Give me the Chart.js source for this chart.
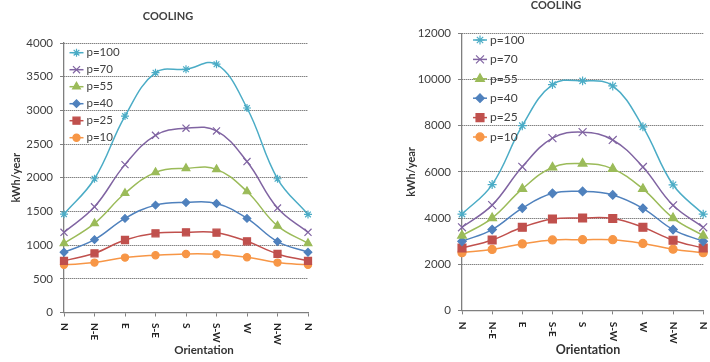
<!DOCTYPE html>
<html lang="en">

<head>
    <meta charset="UTF-8">
    <title>Cooling</title>
    <script src="https://cdn.jsdelivr.net/npm/chart.js"></script>
</head>

<style>
    * {
        box-sizing: border-box;
        margin: 0;
        padding: 0;
    }

    body {
        background-color: #fff;
        width: 710px;
        height: 362px;
        overflow: hidden;
        position: relative;
    }

    .chart-box {
        position: absolute;
        top: 0;
        width: 355px;
        height: 362px;
    }
</style>

<body>

    <div class="chart-box" style="left: 0;">
        <canvas id="chartLeft" width="355" height="362"></canvas>
    </div>
    <div class="chart-box" style="left: 355px;">
        <canvas id="chartRight" width="355" height="362"></canvas>
    </div>

    <script>
        // data
        const orientations = ['N', 'N-E', 'E', 'S-E', 'S', 'S-W', 'W', 'N-W', 'N'];
        const seriesNames = ['p=100', 'p=70', 'p=55', 'p=40', 'p=25', 'p=10'];

        const leftP100 = [1460, 1985, 2915, 3560, 3610, 3685, 3035, 1985, 1455];
        const leftP70 = [1190, 1569, 2195, 2630, 2735, 2695, 2240, 1550, 1190];
        const leftP55 = [1027, 1323, 1770, 2080, 2140, 2125, 1796, 1285, 1027];
        const leftP40 = [894, 1081, 1397, 1594, 1633, 1618, 1397, 1052, 894];
        const leftP25 = [766, 879, 1076, 1175, 1190, 1185, 1057, 869, 766];
        const leftP10 = [707, 741, 815, 850, 869, 864, 820, 741, 707];

        const rightP100 = [4170, 5450, 8000, 9780, 9940, 9720, 7950, 5440, 4170];
        const rightP70 = [3600, 4560, 6220, 7460, 7720, 7380, 6210, 4550, 3600];
        const rightP55 = [3240, 4000, 5260, 6190, 6360, 6130, 5260, 4000, 3240];
        const rightP40 = [2990, 3500, 4430, 5070, 5150, 5000, 4420, 3500, 2990];
        const rightP25 = [2700, 3050, 3600, 3960, 4000, 3980, 3600, 3040, 2700];
        const rightP10 = [2500, 2640, 2880, 3050, 3060, 3060, 2900, 2650, 2500];

        const leftTicks = { max: 4000, step: 500 };
        const rightTicks = { max: 12000, step: 2000 };

        const seriesColors = ['#4BACC6', '#8064A2', '#9BBB59', '#4F81BD', '#C0504D', '#F79646'];
        const seriesMarkers = ['star', 'crossRot', 'triangle', 'rectRot', 'rect', 'circle'];
        const markerSizes = [4, 5, 4.5, 3.8, 5, 3.6];

        Chart.defaults.font.family = 'Lato, "Open Sans", sans-serif';
        Chart.defaults.color = '#404040';

        function makeDatasets(allValues, scale) {
            return allValues.map((values, i) => ({
                label: seriesNames[i],
                data: values,
                borderColor: seriesColors[i],
                backgroundColor: seriesColors[i],
                borderWidth: 1.5,
                pointStyle: seriesMarkers[i],
                pointRadius: markerSizes[i] * scale,
                pointBorderWidth: 1.2,
                pointBackgroundColor: seriesColors[i],
                pointBorderColor: seriesColors[i],
                tension: 0.4
            }));
        }

        // title, clockwise x labels, axis title and the inside legend
        const drawExtras = {
            id: 'drawExtras',
            afterDraw(chart, args, opts) {
                const ctx = chart.ctx;
                const xScale = chart.scales.x;
                ctx.save();

                ctx.fillStyle = '#404040';
                ctx.font = 'bold 11px Lato';
                ctx.textAlign = 'center';
                ctx.textBaseline = 'middle';
                ctx.fillText('COOLING', opts.titleX, opts.titleY);

                ctx.fillStyle = '#262626';
                ctx.font = 'bold 10px Lato';
                ctx.textAlign = 'left';
                orientations.forEach((label, i) => {
                    ctx.save();
                    ctx.translate(xScale.getPixelForTick(i), xScale.top + opts.labelGap);
                    ctx.rotate(Math.PI / 2);
                    ctx.fillText(label, 0, 0);
                    ctx.restore();
                });

                ctx.fillStyle = '#333';
                ctx.font = 'bold ' + opts.axisFont + 'px Lato';
                ctx.textAlign = 'center';
                ctx.fillText('Orientation', opts.axisTitleX, opts.axisTitleY);

                ctx.font = opts.legendFont + 'px Lato';
                ctx.textAlign = 'left';
                chart.data.datasets.forEach((ds, i) => {
                    const y = opts.legendY + i * opts.legendStep;
                    ctx.strokeStyle = ds.borderColor;
                    ctx.fillStyle = ds.borderColor;
                    ctx.lineWidth = 1.5;
                    ctx.beginPath();
                    ctx.moveTo(opts.legendX - 7, y);
                    ctx.lineTo(opts.legendX + 7, y);
                    ctx.stroke();
                    ctx.lineWidth = 1.2;
                    Chart.helpers.drawPoint(ctx, {
                        pointStyle: ds.pointStyle,
                        radius: ds.pointRadius,
                        borderWidth: 1.2,
                        rotation: 0
                    }, opts.legendX, y);
                    ctx.fillStyle = '#404040';
                    ctx.fillText(ds.label, opts.legendX + 10, y);
                });

                ctx.restore();
            }
        };

        function makeConfig(allValues, ticks, box) {
            return {
                type: 'line',
                data: {
                    labels: orientations,
                    datasets: makeDatasets(allValues, box.markerScale)
                },
                plugins: [drawExtras],
                options: {
                    responsive: false,
                    animation: false,
                    layout: {
                        padding: { left: box.padLeft, right: box.padRight, top: box.padTop, bottom: 0 }
                    },
                    plugins: {
                        legend: { display: false },
                        tooltip: { enabled: false },
                        drawExtras: box.extras
                    },
                    scales: {
                        x: {
                            offset: false,
                            ticks: { display: false },
                            grid: {
                                drawOnChartArea: false,
                                tickLength: 4,
                                color: '#808080'
                            },
                            border: { color: '#7f7f7f', width: 1.3 },
                            afterFit: (scale) => { scale.height = box.xHeight; }
                        },
                        y: {
                            min: 0,
                            max: ticks.max,
                            ticks: {
                                stepSize: ticks.step,
                                padding: 7,
                                font: { size: 11.5 },
                                color: '#404040',
                                callback: (value) => String(value)
                            },
                            grid: {
                                color: '#4d4d4d',
                                tickLength: 4,
                                tickColor: '#808080',
                                tickBorderDash: []
                            },
                            border: { color: '#7f7f7f', width: 1.3, dash: [1, 1] },
                            title: {
                                display: true,
                                text: 'kWh/year',
                                color: '#333',
                                font: { size: 11, weight: 'bold' },
                                padding: { top: box.yTitlePad, bottom: 0 }
                            },
                            afterFit: (scale) => { scale.width = box.yWidth; }
                        }
                    }
                }
            };
        }

        const leftBox = {
            padLeft: 0, padRight: 47, padTop: 43,
            xHeight: 49.5, yWidth: 64, yTitlePad: 10, markerScale: 1,
            extras: {
                titleX: 168, titleY: 16.5, labelGap: 10.5,
                axisTitleX: 204, axisTitleY: 350, axisFont: 11.5,
                legendX: 76.5, legendY: 52.7, legendStep: 17, legendFont: 11.5
            }
        };

        const rightBox = {
            padLeft: 44, padRight: 3, padTop: 33.3,
            xHeight: 51.6, yWidth: 63, yTitlePad: 6, markerScale: 1.12,
            extras: {
                titleX: 201, titleY: 5.5, labelGap: 11.3,
                axisTitleX: 233, axisTitleY: 350, axisFont: 12.5,
                legendX: 125, legendY: 40, legendStep: 19.4, legendFont: 12
            }
        };

        new Chart(document.getElementById('chartLeft'),
            makeConfig([leftP100, leftP70, leftP55, leftP40, leftP25, leftP10], leftTicks, leftBox));
        new Chart(document.getElementById('chartRight'),
            makeConfig([rightP100, rightP70, rightP55, rightP40, rightP25, rightP10], rightTicks, rightBox));
    </script>

</body>

</html>
